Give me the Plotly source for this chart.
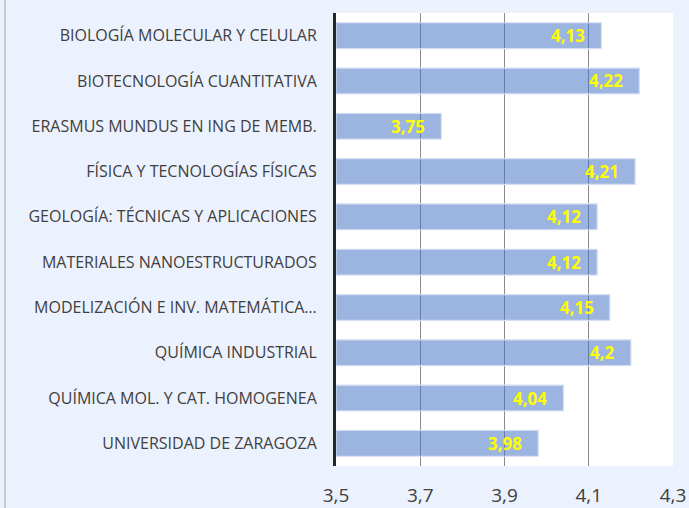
import plotly.graph_objects as go

categories = [
    "BIOLOGÍA MOLECULAR Y CELULAR",
    "BIOTECNOLOGÍA CUANTITATIVA",
    "ERASMUS MUNDUS EN ING DE MEMB.",
    "FÍSICA Y TECNOLOGÍAS FÍSICAS",
    "GEOLOGÍA: TÉCNICAS Y APLICACIONES",
    "MATERIALES NANOESTRUCTURADOS",
    "MODELIZACIÓN E INV. MATEMÁTICA…",
    "QUÍMICA INDUSTRIAL",
    "QUÍMICA MOL. Y CAT. HOMOGENEA",
    "UNIVERSIDAD DE ZARAGOZA",
]
values = [4.13, 4.22, 3.75, 4.21, 4.12, 4.12, 4.15, 4.2, 4.04, 3.98]
tick_vals = [3.5, 3.7, 3.9, 4.1, 4.3]
tick_text = ["3,5", "3,7", "3,9", "4,1", "4,3"]

labels = [str(v).replace(".", ",") for v in values]

L, R, T, B = 336, 16, 13, 42
W, H = 689, 508
pw = W - L - R

fig = go.Figure(go.Bar(
    y=categories, x=[v - 3.5 for v in values], base=3.5,
    orientation="h",
    marker=dict(color="rgba(68,114,196,0.53)", line=dict(color="rgba(214,222,244,1)", width=1.2)),
    width=0.57,
    hoverinfo="skip",
))

annotations = [
    dict(x=v, y=c, xref="x", yref="y", text=t, showarrow=False,
         xanchor="right", yanchor="middle", xshift=-14,
         font=dict(family="Open Sans", size=17, color="#ffff00", weight="bold"))
    for c, v, t in zip(categories, values, labels)
]

fig.update_layout(
    width=W, height=H,
    margin=dict(l=L, r=R, t=T, b=B),
    paper_bgcolor="#ecf2fd", plot_bgcolor="#ffffff",
    showlegend=False,
    xaxis=dict(range=[3.5, 4.3], tickvals=tick_vals, ticktext=tick_text,
               showgrid=True, gridcolor="#8a8a8a", gridwidth=1.3, zeroline=False,
               tickfont=dict(family="Open Sans", size=19, color="#404040"),
               ticks="outside", ticklen=0, ticklabelstandoff=12, layer="above traces",
               automargin=False),
    yaxis=dict(autorange="reversed", showline=True, linecolor="#262626", linewidth=3,
               tickfont=dict(family="Open Sans", size=16, color="#404040"),
               ticks="outside", ticklen=0, ticklabelstandoff=13, automargin=False),
    annotations=annotations,
    shapes=[dict(type="line", xref="paper", yref="paper", x0=-(L - 5) / pw, x1=-(L - 5) / pw,
                 y0=-1, y1=2, line=dict(color="#c8c8c8", width=2))],
)

fig.write_html("out.html", config={"displayModeBar": False},
               post_script="document.body.style.margin='0';")
